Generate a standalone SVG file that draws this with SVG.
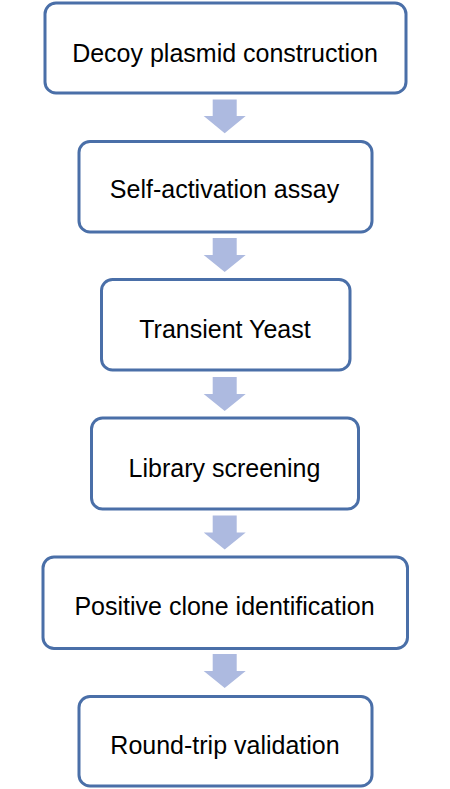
<svg xmlns="http://www.w3.org/2000/svg" width="450" height="789" viewBox="0 0 450 789">
<style>
.box{fill:#ffffff;stroke:#4a6fa8;stroke-width:3}
.lbl{font-family:"Liberation Sans",Arial,sans-serif;font-size:25px;fill:#000000;text-anchor:middle}
.arr{fill:#adbae0}
</style>
<rect width="450" height="789" fill="#ffffff"/>
<g id="connectors">
<polygon class="arr" points="212.7,99.5 236.7,99.5 236.7,116 245.7,116 224.7,133.3 203.7,116 212.7,116"/>
<polygon class="arr" points="212.7,238 236.7,238 236.7,255 245.7,255 224.7,272 203.7,255 212.7,255"/>
<polygon class="arr" points="212.7,377 236.7,377 236.7,394 245.7,394 224.7,411 203.7,394 212.7,394"/>
<polygon class="arr" points="212.7,515.5 236.7,515.5 236.7,532.5 245.7,532.5 224.7,549.5 203.7,532.5 212.7,532.5"/>
<polygon class="arr" points="212.7,654 236.7,654 236.7,671 245.7,671 224.7,688 203.7,671 212.7,671"/>
</g>
<g id="n1"><rect class="box" x="45" y="3" width="361" height="90" rx="11"/><text class="lbl" x="225" y="61.5">Decoy plasmid construction</text></g>
<g id="n2"><rect class="box" x="79" y="141.5" width="293" height="90.5" rx="11"/><text class="lbl" x="224.5" y="198">Self-activation assay</text></g>
<g id="n3"><rect class="box" x="101.5" y="279.5" width="248.5" height="90.5" rx="11"/><text class="lbl" x="225" y="337.5">Transient Yeast</text></g>
<g id="n4"><rect class="box" x="91.5" y="418" width="267" height="91" rx="11"/><text class="lbl" x="224.5" y="477">Library screening</text></g>
<g id="n5"><rect class="box" x="43" y="557" width="364.5" height="91.5" rx="11"/><text class="lbl" x="224.5" y="615">Positive clone identification</text></g>
<g id="n6"><rect class="box" x="79" y="696.5" width="293" height="89.5" rx="11"/><text class="lbl" x="225" y="754">Round-trip validation</text></g>
</svg>
